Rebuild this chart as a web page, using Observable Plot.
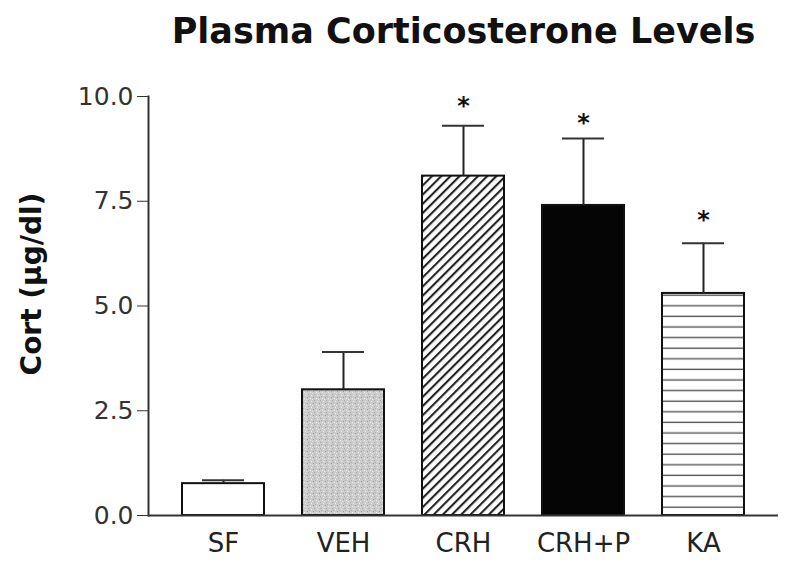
<!DOCTYPE html>
<html>
<head>
<meta charset="utf-8">
<script src="https://cdn.jsdelivr.net/npm/d3@7"></script>
<script src="https://cdn.jsdelivr.net/npm/@observablehq/plot@0.6"></script>
<style>
  html, body { margin: 0; padding: 0; background: white; }
</style>
</head>
<body>
<div id="chart"></div>
<script>
const categories = ["SF", "VEH", "CRH", "CRH+P", "KA"];
const means = [0.76, 3.0, 8.1, 7.4, 5.3];
const sems = [0.08, 0.9, 1.2, 1.6, 1.2];
const starLevels = [null, null, 9.9, 9.5, 7.2];
const yTicks = [0, 2.5, 5, 7.5, 10];
const title = "Plasma Corticosterone Levels";
const yLabel = "Cort (µg/dl)";

const fills = {
  "SF": "white",
  "VEH": "url(#stipple)",
  "CRH": "url(#hatch)",
  "CRH+P": "#050505",
  "KA": "url(#hlines)"
};

const data = categories.map((c, i) => ({cat: c, mean: means[i], sem: sems[i], star: starLevels[i]}));

const chart = Plot.plot({
  width: 799,
  height: 562,
  marginLeft: 148,
  marginRight: 21,
  marginTop: 96,
  marginBottom: 47,
  style: {fontFamily: "DejaVu Sans", background: "white", color: "#222"},
  x: {domain: categories, paddingInner: 0.32, paddingOuter: 0.285},
  y: {domain: [0, 10]},
  color: {type: "identity"},
  marks: [
    Plot.barY(data, {x: "cat", y: "mean", fill: d => fills[d.cat], stroke: "#111", strokeWidth: 2}),
    Plot.ruleX(data, {x: "cat", y1: "mean", y2: d => d.mean + d.sem, stroke: "#222", strokeWidth: 2}),
    Plot.tickY(data, {x: "cat", y: d => d.mean + d.sem, insetLeft: 20, insetRight: 20, stroke: "#333", strokeWidth: 2}),
    Plot.text(data.filter(d => d.star != null), {x: "cat", y: "star", text: () => "*", dy: 6, fontSize: 24, fontWeight: "bold", fill: "#111"}),
    Plot.frame({anchor: "left", stroke: "#333", strokeWidth: 2}),
    Plot.ruleY([0], {stroke: "#333", strokeWidth: 2}),
    Plot.axisY({ticks: yTicks, tickFormat: d => d.toFixed(1), label: null, tickSize: 11, tickPadding: 4, fontSize: 25, stroke: "#333", fill: "#333"}),
    Plot.axisX({label: null, tickSize: 0, tickPadding: 18, fontSize: 26, fill: "#222"}),
    Plot.text([title], {text: d => d, frameAnchor: "top", dy: -78, fontSize: 35, fontWeight: "bold", fill: "#111"}),
    Plot.text([yLabel], {text: d => d, frameAnchor: "left", textAnchor: "middle", dx: -116, dy: -22, rotate: -90, fontSize: 28, fontWeight: "bold", fill: "#111"})
  ]
});

const defs = d3.select(chart).insert("defs", ":first-child");
// stipple for VEH
const st = defs.append("pattern").attr("id", "stipple").attr("width", 6).attr("height", 6).attr("patternUnits", "userSpaceOnUse");
st.append("rect").attr("width", 6).attr("height", 6).attr("fill", "#cbcbcb");
[[1,1,"#9a9a9a"],[4,2,"#f0f0f0"],[2,4,"#a8a8a8"],[5,5,"#eeeeee"],[0,3,"#e6e6e6"],[3,0,"#b0b0b0"]].forEach(([x,y,c]) =>
  st.append("rect").attr("x", x).attr("y", y).attr("width", 1).attr("height", 1).attr("fill", c));
// diagonal hatch for CRH
const ht = defs.append("pattern").attr("id", "hatch").attr("width", 6.5).attr("height", 6.5).attr("patternUnits", "userSpaceOnUse").attr("patternTransform", "rotate(45)");
ht.append("rect").attr("width", 6.5).attr("height", 6.5).attr("fill", "white");
ht.append("line").attr("x1", 1).attr("y1", 0).attr("x2", 1).attr("y2", 6.5).attr("stroke", "#222").attr("stroke-width", 2.2);
// horizontal lines for KA
const hl = defs.append("pattern").attr("id", "hlines").attr("width", 10).attr("height", 10.6).attr("patternUnits", "userSpaceOnUse");
hl.append("rect").attr("width", 10).attr("height", 10.6).attr("fill", "white");
hl.append("line").attr("x1", 0).attr("y1", 9).attr("x2", 10).attr("y2", 9).attr("stroke", "#555").attr("stroke-width", 1.4);

document.getElementById("chart").appendChild(chart);
</script>
</body>
</html>
